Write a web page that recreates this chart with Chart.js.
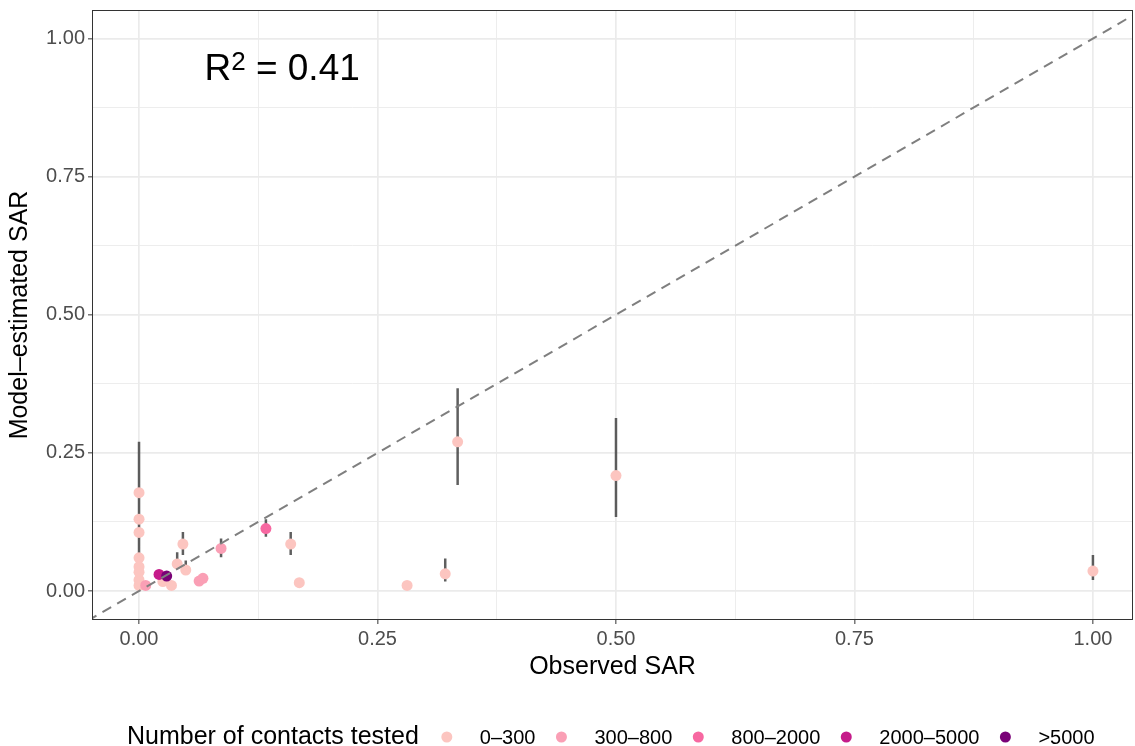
<!DOCTYPE html>
<html>
<head>
<meta charset="utf-8">
<script src="https://cdn.jsdelivr.net/npm/chart.js@4.4.1/dist/chart.umd.min.js"></script>
<style>
  html, body { margin: 0; padding: 0; background: #fff; }
  #wrap { width: 1135px; height: 746px; }
</style>
</head>
<body>
<div id="wrap"><canvas id="sarChart" width="1135" height="746"></canvas></div>
<script>
// observed vs model-estimated secondary attack rate, one entry per study
const observedSAR = [0, 0, 0, 0, 0, 0, 0, 0,
    0.007, 0.021, 0.029, 0.025, 0.034, 0.040, 0.046, 0.049, 0.063, 0.067, 0.086,
    0.133, 0.159, 0.168, 0.281, 0.321, 0.334, 0.500, 1.000];
const estimatedSAR = [0.178, 0.130, 0.106, 0.060, 0.044, 0.034, 0.020, 0.010,
    0.010, 0.030, 0.027, 0.017, 0.010, 0.049, 0.085, 0.038, 0.018, 0.023, 0.077,
    0.113, 0.085, 0.015, 0.010, 0.031, 0.270, 0.209, 0.036];
// index into groupLabels
const contactGroup = [0, 0, 0, 0, 0, 0, 0, 0,
    1, 3, 4, 0, 0, 0, 0, 0, 1, 1, 1,
    2, 0, 0, 0, 0, 0, 0, 0];
const groupLabels = ['0–300', '300–800', '800–2000', '2000–5000', '>5000'];

// uncertainty intervals of the model estimate
const ciObserved = [0, 0, 0, 0, 0, 0, 0, 0, 0.040, 0.046, 0.049, 0.086, 0.133, 0.159, 0.321, 0.334, 0.500, 1.000];
const ciLower = [0.110, 0.080, 0.060, 0.030, 0.020, 0.015, 0.008, 0.003, 0.042, 0.065, 0.030, 0.061, 0.098, 0.065, 0.017, 0.192, 0.134, 0.020];
const ciUpper = [0.270, 0.195, 0.170, 0.100, 0.075, 0.060, 0.040, 0.025, 0.070, 0.107, 0.055, 0.095, 0.130, 0.107, 0.059, 0.367, 0.313, 0.065];

const axisTicks = [0, 0.125, 0.25, 0.375, 0.5, 0.625, 0.75, 0.875, 1];
const identityLine = [-0.1, 1.1];
const rSquared = '0.41';

const FONT = '"Liberation Sans", Arial, Helvetica, sans-serif';
const groupColors = ['#FCC5C0', '#FA9FB5', '#F768A1', '#C51B8A', '#7A0177'];

Chart.defaults.font.family = FONT;

const isMajor = v => Math.abs(v * 4 - Math.round(v * 4)) < 1e-9;

const pointSets = groupLabels.map((label, g) => ({
    type: 'scatter',
    label: label,
    data: observedSAR.map((x, i) => ({ x: x, y: estimatedSAR[i], g: contactGroup[i] }))
        .filter(p => p.g === g),
    backgroundColor: groupColors[g],
    borderWidth: 0,
    pointRadius: 5.5,
    pointHoverRadius: 5.5,
    order: 5 - g
}));

const ciData = [];
ciObserved.forEach((x, i) => {
    ciData.push({ x: x, y: ciLower[i] }, { x: x, y: ciUpper[i] }, { x: x, y: null });
});

const ciSet = {
    type: 'line',
    label: 'interval',
    data: ciData,
    borderColor: 'rgba(55,55,55,0.8)',
    borderWidth: 2.5,
    pointRadius: 0,
    spanGaps: false,
    fill: false,
    order: 10
};

const lineSet = {
    type: 'line',
    label: 'identity',
    data: identityLine.map(v => ({ x: v, y: v })),
    borderColor: '#7F7F7F',
    borderWidth: 2,
    borderDash: [10, 7],
    pointRadius: 0,
    fill: false,
    order: 0
};

function axis(title, isX) {
    return {
        type: 'linear',
        min: isX ? -0.0493 : -0.0525,
        max: isX ? 1.042 : 1.0516,
        afterBuildTicks: s => { s.ticks = axisTicks.map(v => ({ value: v })); },
        afterFit: s => {
            if (isX) { s.height = 64; s.paddingLeft = 0; s.paddingRight = 0; }
            else { s.width = 92; s.paddingTop = 0; s.paddingBottom = 0; }
        },
        ticks: {
            autoSkip: false,
            maxRotation: 0,
            padding: 3,
            color: '#4D4D4D',
            font: { size: 20 },
            callback: v => isMajor(v) ? v.toFixed(2) : ''
        },
        grid: {
            color: '#EBEBEB',
            lineWidth: c => (c.tick && isMajor(c.tick.value)) ? 1.7 : 0.9,
            tickColor: c => (c.tick && isMajor(c.tick.value)) ? '#333333' : 'rgba(0,0,0,0)',
            tickWidth: 1,
            tickLength: 4
        },
        border: { display: false },
        title: {
            display: true,
            text: title,
            color: '#000',
            font: { size: 25 },
            padding: { top: 5, bottom: 2 }
        }
    };
}

const panelExtras = {
    id: 'panelExtras',
    afterDraw(chart) {
        const { ctx, chartArea: a, scales } = chart;
        ctx.save();
        // panel border
        ctx.strokeStyle = '#333333';
        ctx.lineWidth = 1;
        ctx.strokeRect(a.left + 0.5, a.top + 0.5, a.right - a.left - 1, a.bottom - a.top - 1);

        // R^2 annotation, centred at (0.15, 0.95)
        const cx = scales.x.getPixelForValue(0.15);
        const cy = scales.y.getPixelForValue(0.95);
        const bigFont = '37px ' + FONT, supFont = '26px ' + FONT;
        const rest = ' = ' + rSquared;
        ctx.fillStyle = '#000';
        ctx.textBaseline = 'alphabetic';
        ctx.font = bigFont;
        const wR = ctx.measureText('R').width, wRest = ctx.measureText(rest).width;
        ctx.font = supFont;
        const wSup = ctx.measureText('2').width;
        const x = cx - (wR + wSup + wRest) / 2;
        const base = cy + 13.5;
        ctx.font = bigFont;
        ctx.fillText('R', x, base);
        ctx.font = supFont;
        ctx.fillText('2', x + wR, base - 10);
        ctx.font = bigFont;
        ctx.fillText(rest, x + wR + wSup, base);

        // legend along the bottom
        const ly = 737;
        ctx.font = '25px ' + FONT;
        const legendTitle = 'Number of contacts tested';
        let lx = 127;
        ctx.fillText(legendTitle, lx, 744);
        lx += ctx.measureText(legendTitle).width + 28;
        ctx.font = '20px ' + FONT;
        groupLabels.forEach((label, i) => {
            ctx.fillStyle = groupColors[i];
            ctx.beginPath();
            ctx.arc(lx, ly, 5.5, 0, Math.PI * 2);
            ctx.fill();
            ctx.fillStyle = '#000';
            ctx.fillText(label, lx + 33, 744);
            lx += 33 + ctx.measureText(label).width + 26;
        });
        ctx.restore();
    }
};

new Chart(document.getElementById('sarChart'), {
    type: 'scatter',
    data: { datasets: [lineSet, ...pointSets, ciSet] },
    options: {
        responsive: false,
        devicePixelRatio: 1,
        animation: false,
        layout: { autoPadding: false, padding: { top: 10, right: 2, bottom: 62, left: 0 } },
        plugins: {
            legend: { display: false },
            tooltip: { enabled: false }
        },
        scales: {
            x: axis('Observed SAR', true),
            y: axis('Model\u2013estimated SAR', false)
        }
    },
    plugins: [panelExtras]
});
</script>
</body>
</html>
